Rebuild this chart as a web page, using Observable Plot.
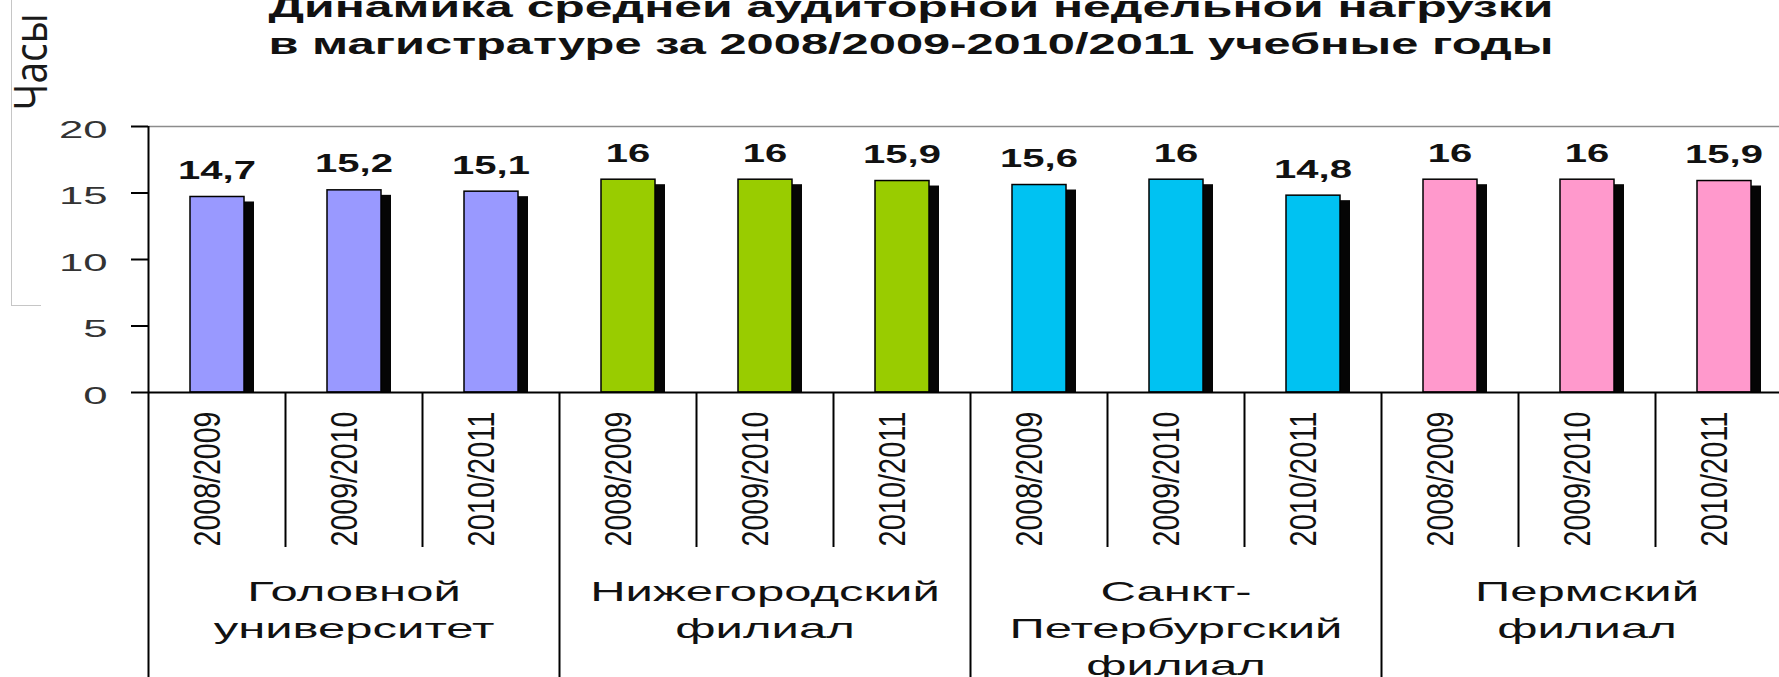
<!DOCTYPE html>
<html>
<head>
<meta charset="utf-8">
<script src="https://cdn.jsdelivr.net/npm/d3@7"></script>
<script src="https://cdn.jsdelivr.net/npm/@observablehq/plot@0.6"></script>
<style>
html, body { margin: 0; padding: 0; background: #fff; overflow: hidden; }
#wrap { position: relative; width: 1779px; height: 677px; overflow: hidden; }
#box { position: absolute; left: 11px; top: -2px; width: 29px; height: 307px;
       border-left: 1.5px solid #c6c6c6; border-bottom: 1.5px solid #c6c6c6; }
</style>
</head>
<body>
<div id="wrap"><div id="box"></div></div>
<script>
// ---- data ----
const titleLines = [
  "Динамика средней аудиторной недельной нагрузки",
  "в магистратуре за 2008/2009-2010/2011 учебные годы"
];
const yLabel = "Часы";
const groups = [
  "Головной\nуниверситет",
  "Нижегородский\nфилиал",
  "Санкт-\nПетербургский\nфилиал",
  "Пермский\nфилиал"
];
const years = ["2008/2009", "2009/2010", "2010/2011"];
const golovnoy = [14.7, 15.2, 15.1];
const nizhegorodsky = [16, 16, 15.9];
const peterburgsky = [15.6, 16, 14.8];
const permsky = [16, 16, 15.9];
const groupColors = ["#9999FF", "#99CC00", "#00C2F2", "#FF99CC"];
const yTicks = [0, 5, 10, 15, 20];

// ---- derived tables ----
const seriesValues = [golovnoy, nizhegorodsky, peterburgsky, permsky];
const rows = [];
groups.forEach((g, gi) => years.forEach((y, yi) => {
  rows.push({key: gi + "|" + y, group: gi, year: y, yi, value: seriesValues[gi][yi], color: groupColors[gi]});
}));
const keys = rows.map(d => d.key);
const groupStartKeys = rows.filter(d => d.yi === 0).map(d => d.key);
const innerKeys = rows.filter(d => d.yi !== 0).map(d => d.key);
const groupMidKeys = rows.filter(d => d.yi === 1).map(d => d.key);
const groupLines = [];
groups.forEach((g, gi) => g.split("\n").forEach((line, li) => groupLines.push({key: groupMidKeys[gi], line, li})));
const fmt = v => String(v).replace(".", ",");

// ---- layout ----
const W = 1779, H = 677, mLeft = 148, mTop = 126, zeroY = 392, xEnd = 1792;
const bw = (xEnd - mLeft) / keys.length;
const FS = {value: 25, year: 36, group: 28, title: 29, ytitle: 46, tick: 23};

const chart = Plot.plot({
  width: W, height: H,
  marginLeft: mLeft, marginTop: mTop, marginBottom: H - zeroY, marginRight: 0,
  style: {fontFamily: "'Liberation Sans', Arial, sans-serif", background: "transparent", overflow: "visible", color: "#000"},
  x: {type: "band", domain: keys, range: [mLeft, xEnd], padding: 0, axis: null},
  y: {domain: [0, 20], axis: null, label: null},
  color: {type: "identity"},
  marks: [
    Plot.ruleY([20], {stroke: "#8c8c8c", strokeWidth: 1.5}),
    Plot.barY(rows, {x: "key", y: "value", fill: "#050505", insetLeft: 52, insetRight: 31, insetTop: 5}),
    Plot.barY(rows, {x: "key", y: "value", fill: "color", stroke: "#000", strokeWidth: 1.5, insetLeft: 42, insetRight: 41}),
    Plot.text(rows, {x: "key", y: "value", text: d => fmt(d.value), dy: -18, lineAnchor: "bottom",
      fontSize: FS.value, fontWeight: "bold", fill: "#111"}),
    Plot.ruleX([keys[0]], {x: d => d, dx: -bw / 2, insetBottom: -(H - zeroY), stroke: "#000", strokeWidth: 2}),
    Plot.ruleX(groupStartKeys.slice(1), {x: d => d, dx: -bw / 2, insetTop: zeroY - mTop, insetBottom: -(H - zeroY), stroke: "#000", strokeWidth: 2}),
    Plot.ruleX(innerKeys, {x: d => d, dx: -bw / 2, insetTop: zeroY - mTop, insetBottom: -155, stroke: "#000", strokeWidth: 2}),
    Plot.ruleY([0], {stroke: "#000", strokeWidth: 2}),
    Plot.axisY({ticks: yTicks, tickSize: 17, fill: "none", stroke: "#000", strokeWidth: 2, label: null}),
    Plot.axisY({ticks: yTicks, tickSize: 17, tickPadding: 24, stroke: "none", fill: "#333", fontSize: FS.tick, dy: 4, label: null}),
    Plot.text(keys, {x: d => d, text: d => d.split("|")[1], frameAnchor: "bottom", rotate: -90,
      textAnchor: "end", lineAnchor: "middle", dx: -8.5, dy: 19, fontSize: FS.year, fill: "#111"}),
    ...[0, 1, 2].map(i => Plot.text(groupLines.filter(d => d.li === i), {x: "key", text: "line", frameAnchor: "bottom",
      lineAnchor: "bottom", dy: 208 + 37 * i, fontSize: FS.group, fill: "#111"})),
    ...titleLines.map((t, i) => Plot.text([t], {text: d => d, frameAnchor: "top", lineAnchor: "bottom",
      dx: -53, dy: -110 + 37 * i, fontSize: FS.title, fontWeight: "bold", fill: "#111"})),
    Plot.text([yLabel], {text: d => d, frameAnchor: "top-left", rotate: -90, textAnchor: "middle", lineAnchor: "middle",
      dx: -116, dy: -64.5, fontSize: FS.ytitle, fontFamily: "'Open Sans', sans-serif", fill: "#1a1a1a"})
  ]
});

const wrap = document.getElementById("wrap");
wrap.prepend(chart);

function textsOfSize(fs) {
  const out = [];
  chart.querySelectorAll("text").forEach(t => {
    const g = t.closest("g");
    const a = (g && g.getAttribute("font-size")) || t.getAttribute("font-size") || "";
    if (parseFloat(a) === fs) out.push(t);
  });
  return out;
}
function stretch(fs, k, fixed) {
  textsOfSize(fs).forEach(t => {
    const L = fixed != null ? fixed : t.getComputedTextLength() * k;
    if (L > 0) {
      t.setAttribute("textLength", L);
      t.setAttribute("lengthAdjust", "spacingAndGlyphs");
    }
  });
}
stretch(FS.value, 1.6);
stretch(FS.tick, 1.9);
stretch(FS.group, 1.75);
stretch(FS.title, null, 1285);
stretch(FS.year, null, 135);
stretch(FS.ytitle, null, 97);
</script>
</body>
</html>
